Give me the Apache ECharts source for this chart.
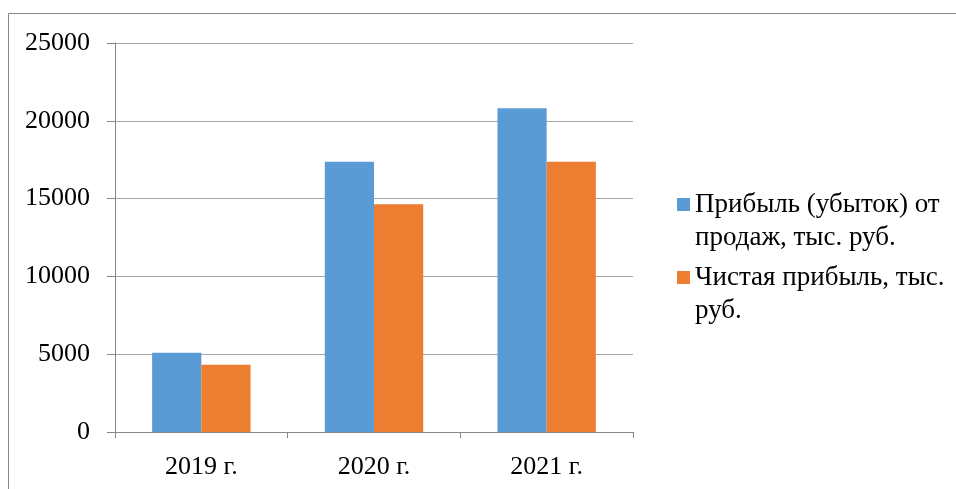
<!DOCTYPE html>
<html><head><meta charset="utf-8">
<script src="https://cdn.jsdelivr.net/npm/echarts@6/dist/echarts.min.js"></script>
<style>html,body{margin:0;padding:0;background:#fff}#c{width:956px;height:489px}</style>
</head><body><div id="c"></div>
<script>
const categories = ['2019 г.', '2020 г.', '2021 г.'];
const seriesNames = ['Прибыль (убыток) от\nпродаж, тыс. руб.', 'Чистая прибыль, тыс.\nруб.'];
const salesProfit = [5100, 17370, 20800];
const netProfit = [4320, 14630, 17370];
const yTicks = { min: 0, max: 25000, interval: 5000 };

const FONT = "'Liberation Serif', 'DejaVu Serif', serif";
const LH = 33;
const chart = echarts.init(document.getElementById('c'), null, { renderer: 'canvas' });
chart.setOption({
  animation: false,
  backgroundColor: '#fff',
  textStyle: { fontFamily: FONT },
  graphic: [{
    type: 'rect', z: -10, silent: true,
    shape: { x: 8.5, y: 13.5, width: 1000, height: 600 },
    style: { fill: 'none', stroke: '#868686', lineWidth: 1 }
  }],
  grid: { left: 115, right: 323, top: 43, bottom: 57 },
  legend: {
    orient: 'vertical', left: 677, top: 155, padding: 0,
    itemWidth: 13, itemHeight: 13, itemGap: -26,
    icon: 'rect',
    formatter: name => '\n' + name,
    textStyle: { fontFamily: FONT, fontSize: 27, color: '#000', lineHeight: LH },
    data: seriesNames
  },
  xAxis: {
    type: 'category', data: categories,
    axisLine: { lineStyle: { color: '#868686', width: 1 } },
    axisTick: { show: true, length: 6, lineStyle: { color: '#868686' } },
    axisLabel: { fontFamily: FONT, fontSize: 26, color: '#000', margin: 22 }
  },
  yAxis: {
    type: 'value', min: yTicks.min, max: yTicks.max, interval: yTicks.interval,
    axisLine: { show: true, lineStyle: { color: '#868686', width: 1 } },
    axisTick: { show: true, length: 8, lineStyle: { color: '#868686' } },
    splitLine: { show: true, lineStyle: { color: '#A6A6A6', width: 1 } },
    axisLabel: { fontFamily: FONT, fontSize: 26, color: '#000', margin: 25, formatter: v => String(v) }
  },
  series: [
    { name: seriesNames[0], type: 'bar', data: salesProfit, barGap: '0%', barCategoryGap: '43%', itemStyle: { color: '#5B9BD5' } },
    { name: seriesNames[1], type: 'bar', data: netProfit, barGap: '0%', barCategoryGap: '43%', itemStyle: { color: '#ED7D31' } }
  ]
});
</script></body></html>
